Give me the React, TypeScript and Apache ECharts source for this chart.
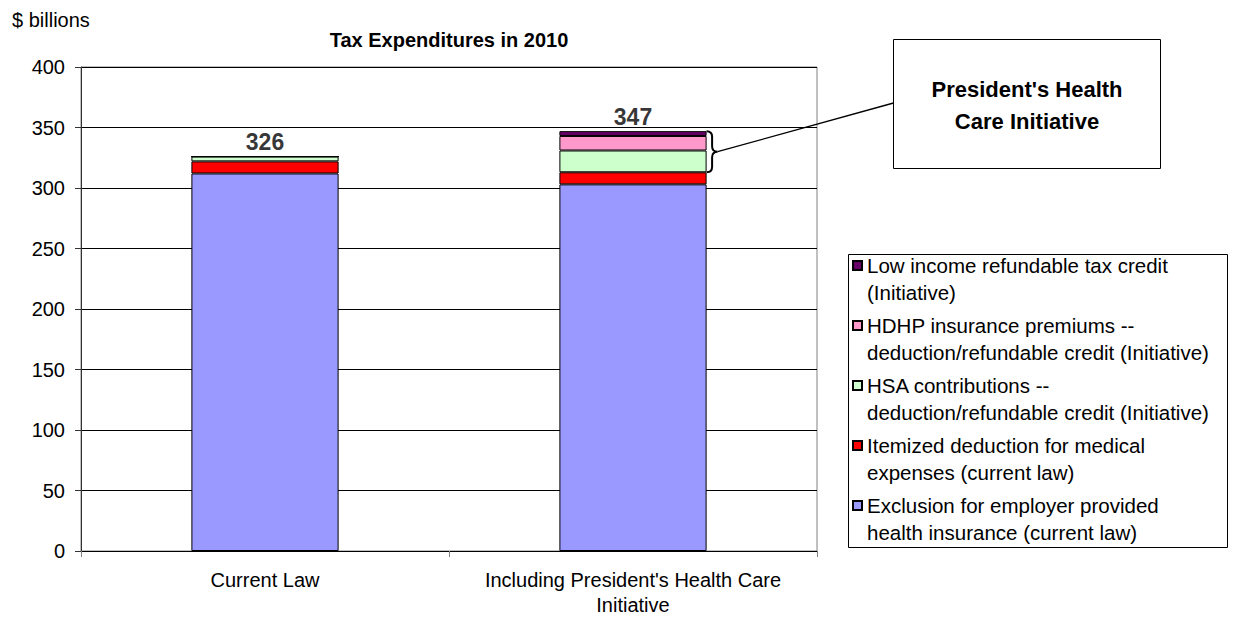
import React, { useEffect, useRef } from "react";
import * as echarts from "echarts";

const categories = ["Current Law", "Including President's Health Care\nInitiative"];
const exclusion = [312, 303];
const itemized = [10, 10];
const hsa = [4, 18];
const hdhp = [0, 12];
const lowIncome = [0, 4];
const seriesNames = [
  "Exclusion for employer provided\nhealth insurance (current law)",
  "Itemized deduction for medical\nexpenses (current law)",
  "HSA contributions --\ndeduction/refundable credit (Initiative)",
  "HDHP insurance premiums --\ndeduction/refundable credit (Initiative)",
  "Low income refundable tax credit\n(Initiative)",
];
const seriesValues = [exclusion, itemized, hsa, hdhp, lowIncome];
const seriesColors = ["#9999FF", "#FF0000", "#CCFFCC", "#FF99CC", "#660066"];
const titleText = "Tax Expenditures in 2010";
const unitText = "$ billions";
const calloutText = "President's Health\nCare Initiative";
const yMin = 0;
const yMax = 400;
const yInterval = 50;

const FONT = "'Liberation Sans', Arial, Helvetica, sans-serif";

const Brace = echarts.graphic.extendShape({
  shape: { x: 0, y0: 0, y1: 0, w: 10 },
  buildPath(ctx: any, s: any) {
    const xm = s.x + s.w / 2;
    const ym = (s.y0 + s.y1) / 2;
    const r = s.w / 2;
    ctx.moveTo(s.x, s.y0);
    ctx.quadraticCurveTo(xm, s.y0, xm, s.y0 + r);
    ctx.lineTo(xm, ym - r);
    ctx.quadraticCurveTo(xm, ym, s.x + s.w, ym);
    ctx.quadraticCurveTo(xm, ym, xm, ym + r);
    ctx.lineTo(xm, s.y1 - r);
    ctx.quadraticCurveTo(xm, s.y1, s.x, s.y1);
  },
});
echarts.graphic.registerShape("brace", Brace as any);

export default function App() {
  const ref = useRef<HTMLDivElement>(null);

  useEffect(() => {
    if (!ref.current) return;
    const chart = echarts.init(ref.current, undefined, { renderer: "svg" });
    const totals = categories.map((_, i) => seriesValues.reduce((a, s) => a + s[i], 0));

    const gridLeft = 81;
    const gridRight = 1235 - 817;
    const gridTop = 67;
    const gridBottom = 619 - 551;

    const option: any = {
      animation: false,
      textStyle: { fontFamily: FONT, color: "#000" },
      grid: {
        left: gridLeft,
        right: gridRight,
        top: gridTop,
        bottom: gridBottom,
        show: true,
        borderColor: "#808080",
        borderWidth: 1,
        containLabel: false,
      },
      legend: {
        orient: "vertical",
        left: 852,
        top: 225,
        padding: 0,
        itemWidth: 9,
        itemHeight: 9,
        itemGap: -21,
        icon: "rect",
        selectedMode: false,
        data: [...seriesNames].reverse(),
        formatter: (name: string) => "\n" + name,
        textStyle: {
          fontFamily: FONT,
          fontSize: 20.5,
          lineHeight: 27,
          color: "#000",
        },
      },
      xAxis: {
        type: "category",
        data: categories,
        axisLine: { show: true, lineStyle: { color: "#000", width: 1 } },
        axisTick: { show: true, length: 6, lineStyle: { color: "#808080" } },
        axisLabel: {
          interval: 0,
          fontSize: 20,
          lineHeight: 25,
          margin: 16,
          color: "#000",
          fontFamily: FONT,
        },
      },
      yAxis: {
        type: "value",
        min: yMin,
        max: yMax,
        interval: yInterval,
        axisLine: { show: true, lineStyle: { color: "#333", width: 1 } },
        axisTick: { show: true, length: 6, lineStyle: { color: "#333" } },
        axisLabel: { fontSize: 20, margin: 16, color: "#000", fontFamily: FONT },
        splitLine: { show: true, lineStyle: { color: "#000", width: 1 } },
      },
      series: [
        ...seriesNames.map((name, k) => ({
          name,
          type: "bar",
          stack: "total",
          barWidth: "40%",
          data: seriesValues[k],
          itemStyle: { color: seriesColors[k], borderColor: "#000", borderWidth: 1 },
        })),
        {
          name: "Total",
          type: "scatter",
          data: totals,
          symbolSize: 0.1,
          itemStyle: { color: "rgba(0,0,0,0)" },
          label: {
            show: true,
            position: "top",
            distance: 3,
            fontSize: 23,
            fontWeight: "bold",
            color: "#000",
            fontFamily: FONT,
          },
          z: 5,
        },
      ],
    };
    chart.setOption(option);

    const x0 = chart.convertToPixel({ xAxisIndex: 0 } as any, 0) as unknown as number;
    const x1 = chart.convertToPixel({ xAxisIndex: 0 } as any, 1) as unknown as number;
    const band = x1 - x0;
    const barRight = x1 + (band * 0.4) / 2;
    const yTop = chart.convertToPixel({ yAxisIndex: 0 } as any, totals[1]) as unknown as number;
    const yBot = chart.convertToPixel(
      { yAxisIndex: 0 } as any,
      exclusion[1] + itemized[1]
    ) as unknown as number;
    const braceW = 11;
    const plotCenter = (gridLeft + (1235 - gridRight)) / 2;

    chart.setOption({
      graphic: [
        {
          type: "text",
          x: 12,
          y: 20,
          style: {
            text: unitText,
            fontSize: 20,
            fontFamily: FONT,
            fill: "#000",
            align: "left",
            verticalAlign: "middle",
          },
        },
        {
          type: "text",
          x: plotCenter,
          y: 40,
          style: {
            text: titleText,
            fontSize: 20,
            fontWeight: "bold",
            fontFamily: FONT,
            fill: "#000",
            align: "center",
            verticalAlign: "middle",
          },
        },
        {
          type: "rect",
          shape: { x: 848.5, y: 254.5, width: 379, height: 293 },
          style: { fill: "#fff", stroke: "#000", lineWidth: 1 },
          z: -1,
        },
        {
          type: "rect",
          shape: { x: 893.5, y: 39.5, width: 267, height: 129 },
          style: { fill: "#fff", stroke: "#000", lineWidth: 1 },
        },
        {
          type: "text",
          x: 1027,
          y: 105,
          style: {
            text: calloutText,
            fontSize: 22,
            fontWeight: "bold",
            lineHeight: 32,
            fontFamily: FONT,
            fill: "#000",
            align: "center",
            verticalAlign: "middle",
          },
        },
        {
          type: "brace",
          shape: { x: barRight, y0: yTop, y1: yBot, w: braceW },
          style: { fill: "none", stroke: "#000", lineWidth: 2 },
          z: 10,
        },
        {
          type: "line",
          shape: { x1: barRight + braceW, y1: (yTop + yBot) / 2, x2: 893.5, y2: 103 },
          style: { stroke: "#000", lineWidth: 1.3 },
          z: 10,
        },
      ],
    });

    return () => chart.dispose();
  }, []);

  return (
    <div
      ref={ref}
      style={{ position: "fixed", left: 0, top: 0, width: 1235, height: 619, background: "#fff" }}
    />
  );
}
